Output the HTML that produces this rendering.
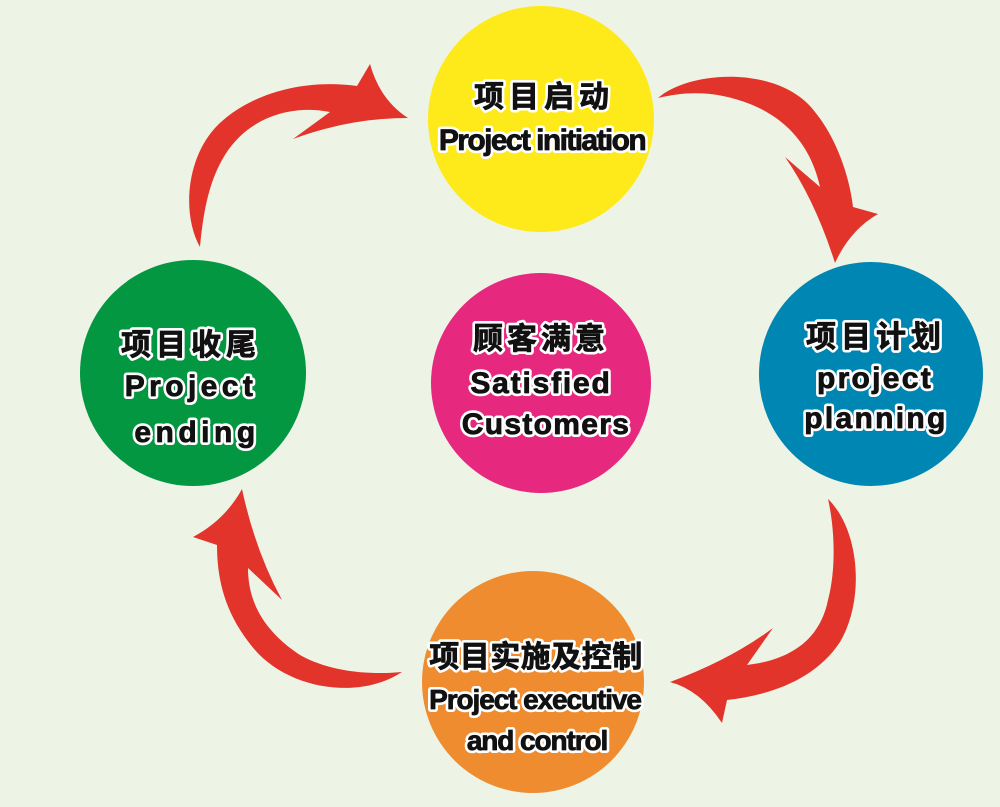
<!DOCTYPE html>
<html><head><meta charset="utf-8"><style>
html,body{margin:0;padding:0;background:#EDF4E6;}
svg{display:block;}
.t{font-family:"Liberation Sans","Noto Sans CJK SC",sans-serif;font-weight:700;text-anchor:middle;}
.c{font-family:"Noto Sans CJK SC","WenQuanYi Zen Hei",sans-serif;font-weight:700;}
</style></head><body>
<svg width="1000" height="807" viewBox="0 0 1000 807" xmlns="http://www.w3.org/2000/svg">
<defs>
<g id="labels">
<text class="t c" x="544" y="107" font-size="30" letter-spacing="5">项目启动</text>
<text class="t" x="542" y="150" font-size="30" letter-spacing="-1.6">Project initiation</text>
<text class="t c" x="541" y="349" font-size="30" letter-spacing="4">顾客满意</text>
<text class="t" x="541" y="393" font-size="30" letter-spacing="1.8">Satisfied</text>
<text class="t" x="546" y="434" font-size="30" letter-spacing="1.3">Customers</text>
<text class="t c" x="191" y="355" font-size="30" letter-spacing="5">项目收尾</text>
<text class="t" x="191" y="396" font-size="30" letter-spacing="4.4">Project</text>
<text class="t" x="197" y="442" font-size="30" letter-spacing="4.5">ending</text>
<text class="t c" x="876" y="347" font-size="30" letter-spacing="5">项目计划</text>
<text class="t" x="875" y="388" font-size="30" letter-spacing="2.3">project</text>
<text class="t" x="876" y="428" font-size="30" letter-spacing="2.3">planning</text>
<text class="t c" x="536" y="667" font-size="30" letter-spacing="0.5">项目实施及控制</text>
<text class="t" x="535" y="709" font-size="28" letter-spacing="-1.1">Project executive</text>
<text class="t" x="537" y="750" font-size="28" letter-spacing="-1.1">and control</text>
</g>
</defs>
<rect width="1000" height="807" fill="#EDF4E6"/>
<g fill="#E3342C">
<path d="M200 247 C182 215,186 160,215 128 C245 96,300 78,357 86 L370 64 Q380 100,408 118 Q350 118,293 139 L330 112 C290 104,245 118,222 160 C208 185,203 215,200 247 Z"/>
<path d="M658 98 C690 70,780 65,815 112 C838 140,850 180,853 207 L878 214 Q850 230,835 263 Q815 200,785 157 L820 187 C812 150,790 120,750 104 C720 92,690 90,658 98 Z"/>
<path d="M828 499 C860 530,865 600,840 642 C815 680,770 695,727 700 L722 723 Q700 690,670 682 Q730 660,773 628 L747 665 C790 660,820 640,828 600 C836 570,835 530,828 499 Z"/>
<path d="M402 672 C360 700,290 690,255 650 C225 615,217 580,217 545 L193 537 Q225 520,242 489 Q255 550,282 600 L248 568 C248 600,262 630,300 655 C330 672,370 675,402 672 Z"/>
</g>
<circle cx="541" cy="119" r="113" fill="#FEEA1B"/>
<circle cx="541" cy="383" r="110" fill="#E6287F"/>
<circle cx="193" cy="373" r="113" fill="#039741"/>
<circle cx="871" cy="374" r="112" fill="#0086B2"/>
<circle cx="533" cy="682" r="111" fill="#EE8C2F"/>
<g fill="#ffffff" stroke="#ffffff" stroke-width="6" stroke-linejoin="round"><use href="#labels"/></g>
<g fill="#111111" stroke="#111111" stroke-width="0.8" stroke-linejoin="round"><use href="#labels"/></g>
</svg>
</body></html>
